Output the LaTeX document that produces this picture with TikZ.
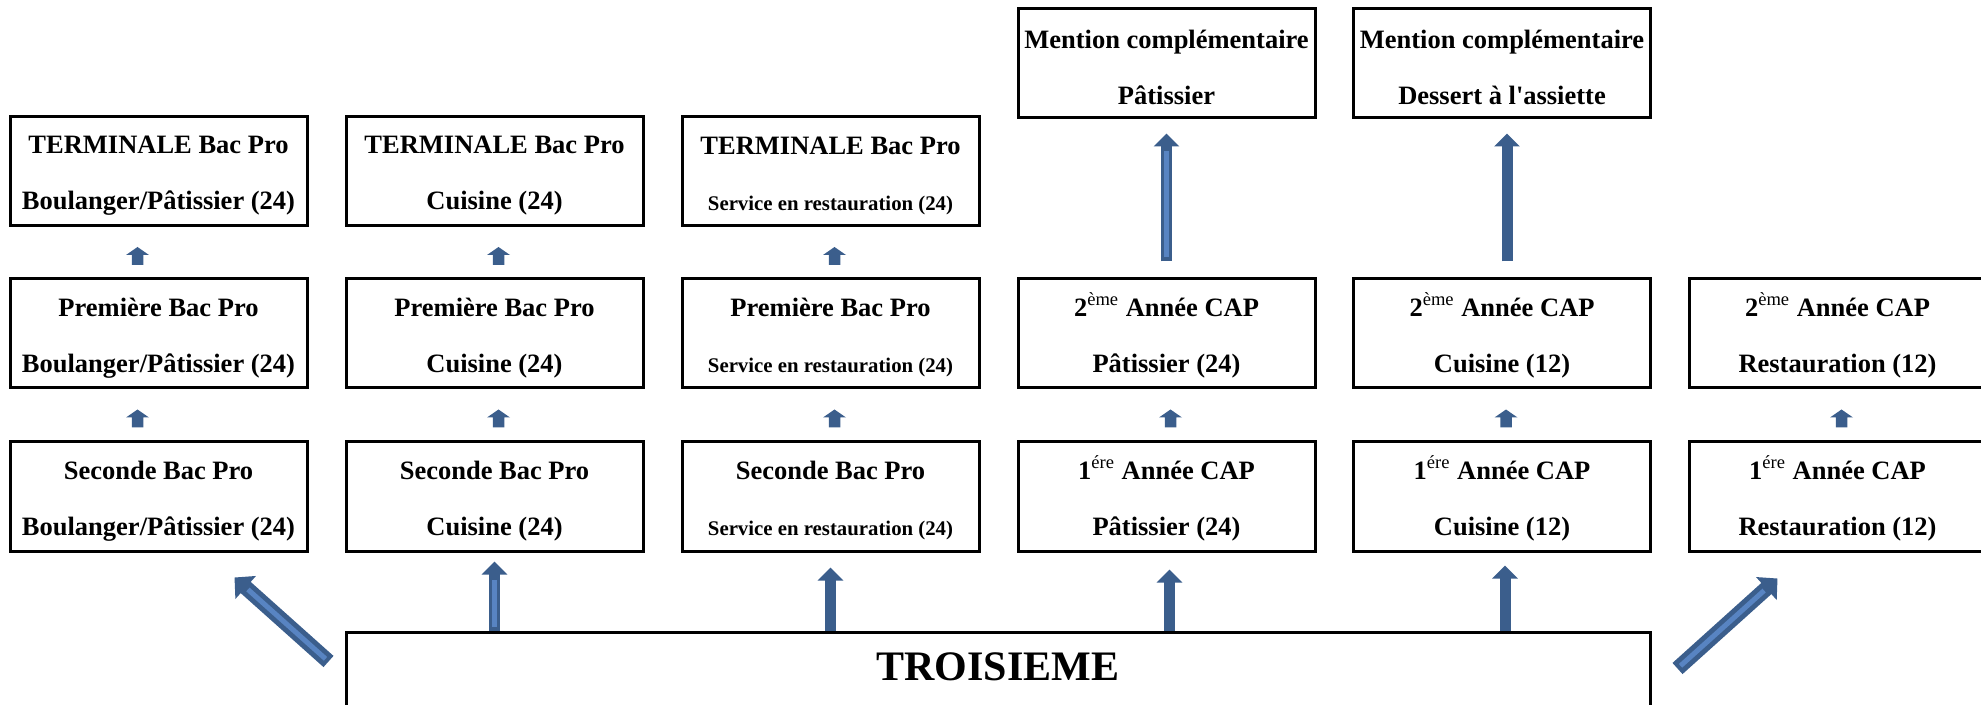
\documentclass[tikz,border=0pt]{standalone}
\usepackage{fontspec}
\setmainfont{Liberation Serif}
\usetikzlibrary{arrows.meta}
\definecolor{arrblue}{RGB}{59,94,140}
\definecolor{arrlight}{RGB}{88,132,194}
\newcommand\fl{\rule{0pt}{13.5pt}}
% small block arrow pointing up, tip given as argument (units in px)
\newcommand\smallup[1]{\fill[arrblue] #1 -- ++(11.5,8) -- ++(-5.75,0) -- ++(0,10) -- ++(-11.5,0) -- ++(0,-10) -- ++(-5.75,0) -- cycle;}
\begin{document}
\begin{tikzpicture}[x=0.5pt,y=-0.5pt,
  box/.style={draw, line width=1.5pt, minimum width=148.5pt, minimum height=54.5pt,
    inner sep=0pt, align=center, font=\fontsize{13.25}{28}\selectfont\bfseries},
  bigarr/.style={color=arrblue, line width=5.5pt, -{Triangle[width=12.5pt,length=6.5pt]}},
  diagarr/.style={color=arrblue, line width=7.5pt, -{Triangle[width=15pt,length=7.5pt]}},
  stripe/.style={color=arrlight, line width=2.5pt, shorten <=2pt, shorten >=9pt}
]
\useasboundingbox (0,0) rectangle (1981,705);
\clip (0,0) rectangle (1981,705);

% column 1
\node[box] (t1) at (158.5,171) {\fl TERMINALE Bac Pro\\Boulanger/Pâtissier (24)};
\node[box] (p1) at (158.5,333.5) {\fl Première Bac Pro\\Boulanger/Pâtissier (24)};
\node[box] (s1) at (158.5,496.5) {\fl Seconde Bac Pro\\Boulanger/Pâtissier (24)};
% column 2
\node[box] (t2) at (494.5,171) {\fl TERMINALE Bac Pro\\Cuisine (24)};
\node[box] (p2) at (494.5,333.5) {\fl Première Bac Pro\\Cuisine (24)};
\node[box] (s2) at (494.5,496.5) {\fl Seconde Bac Pro\\Cuisine (24)};
% column 3
\node[box] (t3) at (830.5,171) {\fl TERMINALE Bac Pro\\\fontsize{10.4}{28}\selectfont Service en restauration (24)};
\node[box] (p3) at (830.5,333.5) {\fl Première Bac Pro\\\fontsize{10.4}{28}\selectfont Service en restauration (24)};
\node[box] (s3) at (830.5,496.5) {\fl Seconde Bac Pro\\\fontsize{10.4}{28}\selectfont Service en restauration (24)};
% column 4
\node[box] (m4) at (1166.5,63.5) {\fl Mention complémentaire\\Pâtissier};
\node[box] (d4) at (1166.5,333.5) {\fl 2\textsuperscript{\mdseries ème} Année CAP\\Pâtissier (24)};
\node[box] (u4) at (1166.5,496.5) {\fl 1\textsuperscript{\mdseries ére} Année CAP\\Pâtissier (24)};
% column 5
\node[box] (m5) at (1502,63.5) {\fl Mention complémentaire\\Dessert à l\textquotesingle assiette};
\node[box] (d5) at (1502,333.5) {\fl 2\textsuperscript{\mdseries ème} Année CAP\\Cuisine (12)};
\node[box] (u5) at (1502,496.5) {\fl 1\textsuperscript{\mdseries ére} Année CAP\\Cuisine (12)};
% column 6
\node[box] (d6) at (1837.5,333.5) {\fl 2\textsuperscript{\mdseries ème} Année CAP\\Restauration (12)};
\node[box] (u6) at (1837.5,496.5) {\fl 1\textsuperscript{\mdseries ére} Année CAP\\Restauration (12)};
% troisieme
\node[draw, line width=1.5pt, minimum width=652pt, minimum height=54.5pt, inner sep=0pt] (tr) at (998,686.5) {};
\node[font=\fontsize{21}{21}\selectfont\bfseries, inner sep=0pt] (trl) at (998,667) {TROISIEME};

% small arrows (tip just below the upper box)
\smallup{([xshift=-10.5pt,yshift=-10pt]t1.south)}
\smallup{([xshift=-10.5pt,yshift=-10pt]p1.south)}
\smallup{([xshift=2pt,yshift=-10pt]t2.south)}
\smallup{([xshift=2pt,yshift=-10pt]p2.south)}
\smallup{([xshift=2pt,yshift=-10pt]t3.south)}
\smallup{([xshift=2pt,yshift=-10pt]p3.south)}
\smallup{([xshift=2pt,yshift=-10pt]d4.south)}
\smallup{([xshift=2pt,yshift=-10pt]d5.south)}
\smallup{([xshift=2pt,yshift=-10pt]d6.south)}

% mention arrows
\draw[bigarr] ([yshift=8pt]d4.north) -- ([yshift=-7pt]m4.south);
\draw[stripe] ([yshift=8pt]d4.north) -- ([yshift=-7pt]m4.south);
\draw[bigarr] ([xshift=2.5pt,yshift=8pt]d5.north) -- ([xshift=2.5pt,yshift=-7pt]m5.south);

% arrows from troisieme
\draw[bigarr] (s2.south |- tr.north) -- ([yshift=-4.5pt]s2.south);
\draw[stripe] (s2.south |- tr.north) -- ([yshift=-4.5pt]s2.south);
\draw[bigarr] (s3.south |- tr.north) -- ([yshift=-7.5pt]s3.south);
\draw[bigarr] ([xshift=1.5pt]u4.south |- tr.north) -- ([xshift=1.5pt,yshift=-8.5pt]u4.south);
\draw[bigarr] ([xshift=1.5pt]u5.south |- tr.north) -- ([xshift=1.5pt,yshift=-6.5pt]u5.south);

% diagonal arrows
\draw[diagarr] ([xshift=-8pt,yshift=-15.5pt]tr.north west) -- ([xshift=-37pt,yshift=-12.5pt]s1.south east);
\draw[stripe] ([xshift=-8pt,yshift=-15.5pt]tr.north west) -- ([xshift=-37pt,yshift=-12.5pt]s1.south east);
\draw[diagarr] ([xshift=13pt,yshift=-19pt]tr.north east) -- ([xshift=45pt,yshift=-13pt]u6.south west);
\draw[stripe] ([xshift=13pt,yshift=-19pt]tr.north east) -- ([xshift=45pt,yshift=-13pt]u6.south west);
\end{tikzpicture}
\end{document}
